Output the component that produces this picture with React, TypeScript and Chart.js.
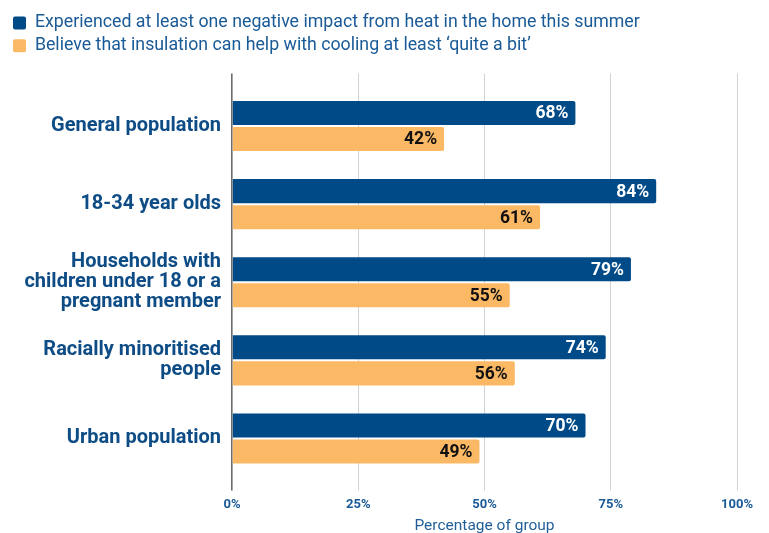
import React, { useEffect, useRef } from "react";
import { Chart, registerables } from "chart.js";

Chart.register(...registerables);

const categories: (string | string[])[] = [
  "General population",
  "18-34 year olds",
  ["Households with", "children under 18 or a", "pregnant member"],
  ["Racially minoritised", "people"],
  "Urban population",
];
const seriesNames = [
  "Experienced at least one negative impact from heat in the home this summer",
  "Believe that insulation can help with cooling at least \u2018quite a bit\u2019",
];
const negativeImpact = [68, 84, 79, 74, 70];
const insulationHelps = [42, 61, 55, 56, 49];
const xTicks = [0, 25, 50, 75, 100];

const DARK = "#004a87";
const ORANGE = "#fbb966";
const TEXT_BLUE = "#0e4c86";
const FONT = "Roboto, 'Open Sans', sans-serif";

const legendMargin = {
  id: "legendMargin",
  beforeInit(chart: any) {
    const fit = chart.legend.fit;
    chart.legend.fit = function () {
      fit.bind(this)();
      this.height += 9;
    };
  },
};

const barLabels = {
  id: "barLabels",
  afterDatasetsDraw(chart: any) {
    const ctx = chart.ctx;
    ctx.save();
    ctx.font = `bold 17.5px ${FONT}`;
    ctx.textAlign = "right";
    ctx.textBaseline = "middle";
    chart.data.datasets.forEach((ds: any, di: number) => {
      const meta = chart.getDatasetMeta(di);
      meta.data.forEach((bar: any, i: number) => {
        ctx.fillStyle = di === 0 ? "#ffffff" : "#111111";
        ctx.fillText(`${ds.data[i]}%`, bar.x - 7, bar.y + 1);
      });
    });
    ctx.restore();
  },
};

export default function App() {
  const ref = useRef<HTMLCanvasElement>(null);
  useEffect(() => {
    if (!ref.current) return;
    const gridColor = (c: any) => (c.tick && c.tick.value === 0 ? "#6b6b6b" : "#d2d2d2");
    const gridWidth = (c: any) => (c.tick && c.tick.value === 0 ? 1.6 : 1);
    const chart = new Chart(ref.current, {
      type: "bar",
      data: {
        labels: categories,
        datasets: [
          {
            label: seriesNames[0],
            data: negativeImpact,
            backgroundColor: DARK,
            borderRadius: 2,
            borderSkipped: "start",
            categoryPercentage: 0.667,
            barPercentage: 0.923,
          },
          {
            label: seriesNames[1],
            data: insulationHelps,
            backgroundColor: ORANGE,
            borderRadius: 2,
            borderSkipped: "start",
            categoryPercentage: 0.667,
            barPercentage: 0.923,
          },
        ],
      },
      options: {
        indexAxis: "y",
        animation: false,
        responsive: false,
        maintainAspectRatio: false,
        layout: { padding: { left: 8, top: 9, right: 32, bottom: 0 } },
        plugins: {
          tooltip: { enabled: false },
          legend: {
            position: "top",
            align: "start",
            labels: {
              boxWidth: 13,
              boxHeight: 13,
              padding: 5,
              color: "#1a5a97",
              font: { family: FONT, size: 17.75 },
              useBorderRadius: true,
              borderRadius: 2,
            },
          },
        },
        scales: {
          x: {
            min: 0,
            max: 100,
            afterBuildTicks: (s: any) => {
              s.ticks = xTicks.map((v) => ({ value: v }));
            },
            afterFit: (s: any) => {
              s.height = 55.5;
            },
            border: { display: false },
            grid: { color: gridColor, lineWidth: gridWidth, tickLength: 13, tickColor: gridColor, tickWidth: gridWidth },
            ticks: {
              padding: 6,
              color: "#1a5a97",
              font: { family: FONT, size: 13, weight: "bold" },
              callback: (v: any) => `${v}%`,
            },
            title: {
              display: true,
              text: "Percentage of group",
              color: "#1f5e99",
              font: { family: FONT, size: 15.5 },
              padding: { top: 0, bottom: -2 },
            },
          },
          x2: {
            position: "top",
            min: 0,
            max: 100,
            afterBuildTicks: (s: any) => {
              s.ticks = xTicks.map((v) => ({ value: v }));
            },
            border: { display: false },
            grid: { drawOnChartArea: false, tickLength: 13.5, tickColor: gridColor, tickWidth: gridWidth, color: gridColor, lineWidth: gridWidth },
            ticks: { display: false },
          },
          y: {
            border: { display: false },
            grid: { display: false, drawTicks: false },
            afterFit: (s: any) => {
              s.width = 224;
            },
            ticks: {
              padding: 11,
              color: TEXT_BLUE,
              font: { family: FONT, size: 20, weight: "bold", lineHeight: 1.0 },
            },
          },
        },
      },
      plugins: [legendMargin, barLabels],
    });
    return () => chart.destroy();
  }, []);
  return (
    <div style={{ position: "absolute", left: 0, top: 0, width: 769, height: 533, background: "#fff" }}>
      <canvas ref={ref} width={769} height={533} style={{ display: "block" }} />
    </div>
  );
}
